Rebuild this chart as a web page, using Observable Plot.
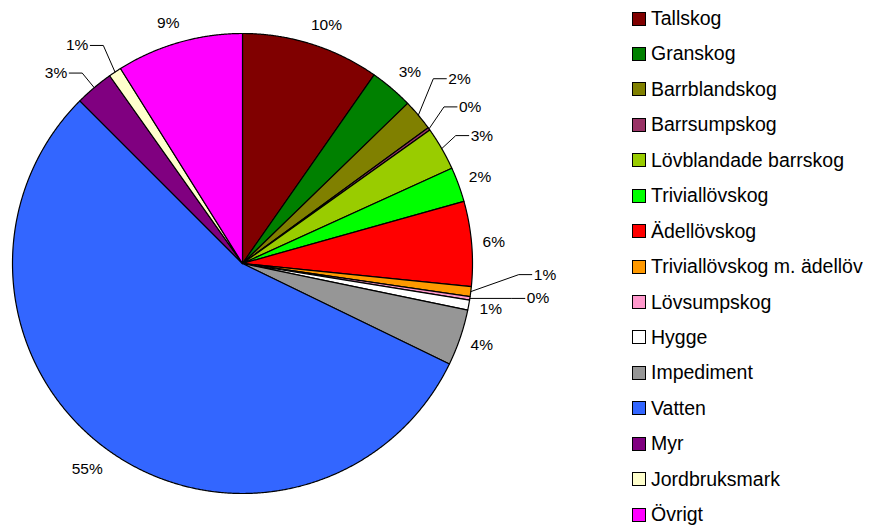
<!DOCTYPE html>
<html>
<head>
<meta charset="utf-8">
<script src="https://cdn.jsdelivr.net/npm/d3@7"></script>
<script src="https://cdn.jsdelivr.net/npm/@observablehq/plot@0.6"></script>
<style>
  html, body { margin: 0; padding: 0; background: #fff; }
  #wrap { position: relative; width: 871px; height: 530px; overflow: hidden; }
  #chart { position: absolute; left: 0; top: 0; }
  #legend { position: absolute; left: 632px; top: 0.8px; font-family: "Liberation Sans", Arial, sans-serif; font-size: 19.5px; color: #000; }
  .row { display: flex; align-items: center; height: 35.45px; white-space: nowrap; }
  .sw { width: 14px; height: 14px; box-sizing: border-box; border: 1.4px solid #000; margin-right: 5px; flex: none; }
</style>
</head>
<body>
<div id="wrap"><div id="chart"></div><div id="legend"></div></div>
<script>
// ---- data ----
const names = ["Tallskog", "Granskog", "Barrblandskog", "Barrsumpskog", "Lövblandade barrskog", "Triviallövskog", "Ädellövskog", "Triviallövskog m. ädellöv", "Lövsumpskog", "Hygge", "Impediment", "Vatten", "Myr", "Jordbruksmark", "Övrigt"];
const values = [9.7, 3.05, 2.2, 0.2, 3.05, 2.45, 5.95, 0.7, 0.25, 0.7, 3.95, 55.3, 2.7, 0.9, 8.9];
const percentLabels = ["10%", "3%", "2%", "0%", "3%", "2%", "6%", "1%", "0%", "1%", "4%", "55%", "3%", "1%", "9%"];
const colors = ["#800000", "#008000", "#808000", "#993366", "#99CC00", "#00FF00", "#FF0000", "#FF9900", "#FF99CC", "#FFFFFF", "#969696", "#3366FF", "#800080", "#FFFFCC", "#FF00FF"];
// leader-line labels: elbow offset (px) from the slice's outer edge
const leaderNudge = {
  "Barrblandskog": [15, -36.5],
  "Barrsumpskog": [15, -22],
  "Lövblandade barrskog": [14, -13],
  "Triviallövskog m. ädellöv": [48, -17],
  "Lövsumpskog": [42, 0],
  "Myr": [-12, -14.6],
  "Jordbruksmark": [-11.7, -26.6]
};

// ---- layout ----
const W = 871, H = 530, R = 230, cx = 242, cy = 263;
const fs = 15.5;
const font = '"Liberation Sans", Arial, sans-serif';

const total = d3.sum(values);
let acc = 0;
const slices = names.map((name, i) => {
  const a0 = acc / total * 2 * Math.PI;
  acc += values[i];
  const a1 = acc / total * 2 * Math.PI;
  return {name, a0, a1, mid: (a0 + a1) / 2, label: percentLabels[i]};
});

// slice outlines in unit coordinates
const pts = [];
for (const s of slices) {
  pts.push({name: s.name, x: 0, y: 0});
  const n = Math.max(2, Math.ceil((s.a1 - s.a0) / (Math.PI / 720)));
  for (let k = 0; k <= n; k++) {
    const a = s.a0 + (s.a1 - s.a0) * k / n;
    pts.push({name: s.name, x: Math.sin(a), y: Math.cos(a)});
  }
  pts.push({name: s.name, x: 0, y: 0});
}

function textW(t) {
  let w = 0;
  for (const c of t) w += c === "%" ? 0.889 : 0.556;
  return w * fs;
}
const clamp = v => Math.max(-1, Math.min(1, v));

const plain = [], leaderR = [], leaderL = [], leaderPts = [];
for (const s of slices) {
  const sn = Math.sin(s.mid), cs = Math.cos(s.mid);
  const nd = leaderNudge[s.name];
  if (!nd) {
    const hw = textW(s.label) / 2, hh = 9, r0 = 241;
    plain.push({
      label: s.label,
      x: (r0 * sn + hw * clamp(2.5 * sn)) / R,
      y: (r0 * cs + hh * clamp(1.2 * cs)) / R
    });
  } else {
    const ex = sn, ey = cs;
    const bx = ex + nd[0] / R, by = ey - nd[1] / R;
    const dir = nd[0] >= 0 ? 1 : -1;
    const tx = bx + dir * 13 / R;
    leaderPts.push({name: s.name, x: ex, y: ey}, {name: s.name, x: bx, y: by}, {name: s.name, x: tx, y: by});
    (dir > 0 ? leaderR : leaderL).push({label: s.label, x: tx + dir * 2 / R, y: by});
  }
}

const chart = Plot.plot({
  width: W,
  height: H,
  marginLeft: cx - R,
  marginRight: W - (cx + R),
  marginTop: cy - R,
  marginBottom: H - (cy + R),
  x: {domain: [-1, 1], axis: null},
  y: {domain: [-1, 1], axis: null},
  color: {type: "ordinal", domain: names, range: colors},
  style: {fontFamily: font, background: "white", overflow: "visible"},
  marks: [
    Plot.line(pts, {x: "x", y: "y", z: "name", fill: "name", stroke: "#000", strokeWidth: 1.2, strokeLinejoin: "round"}),
    Plot.line(leaderPts, {x: "x", y: "y", z: "name", stroke: "#000", strokeWidth: 1}),
    Plot.text(plain, {x: "x", y: "y", text: "label", fontSize: fs, fill: "#000"}),
    Plot.text(leaderR, {x: "x", y: "y", text: "label", fontSize: fs, fill: "#000", textAnchor: "start"}),
    Plot.text(leaderL, {x: "x", y: "y", text: "label", fontSize: fs, fill: "#000", textAnchor: "end"})
  ]
});
document.getElementById("chart").appendChild(chart);

// legend
const legend = document.getElementById("legend");
names.forEach((n, i) => {
  const row = document.createElement("div");
  row.className = "row";
  const sw = document.createElement("div");
  sw.className = "sw";
  sw.style.background = colors[i];
  const lab = document.createElement("span");
  lab.textContent = n;
  row.appendChild(sw);
  row.appendChild(lab);
  legend.appendChild(row);
});
</script>
</body>
</html>
